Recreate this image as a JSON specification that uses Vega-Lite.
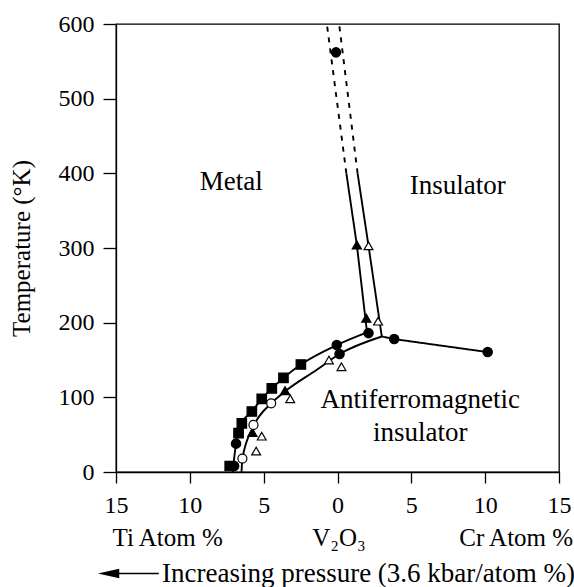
{
  "$schema": "https://vega.github.io/schema/vega-lite/v6.json",
  "width": 443,
  "height": 448,
  "autosize": {"type": "none"},
  "padding": {"left": 116, "top": 24, "right": 15, "bottom": 115},
  "background": "white",
  "config": {
    "font": "Liberation Serif",
    "view": {"stroke": "black", "strokeWidth": 1.3},
    "axis": {
      "grid": false,
      "domainColor": "black",
      "domainWidth": 1.3,
      "tickColor": "black",
      "tickWidth": 1.3,
      "labelColor": "black",
      "labelFont": "Liberation Serif",
      "labelFontSize": 24,
      "titleFont": "Liberation Serif",
      "titleFontSize": 25,
      "titleFontWeight": "normal",
      "titleColor": "black"
    }
  },
  "datasets": {
    "lines": [
      {"seg": "A1", "o": 1, "x": -7.1, "y": 0, "kind": "measured"},
      {"seg": "A1", "o": 2, "x": -6.87, "y": 38, "kind": "measured"},
      {"seg": "A1", "o": 3, "x": -6.7, "y": 52, "kind": "measured"},
      {"seg": "A1", "o": 4, "x": -6.45, "y": 66, "kind": "measured"},
      {"seg": "A1", "o": 5, "x": -5.8, "y": 81, "kind": "measured"},
      {"seg": "A1", "o": 6, "x": -5.13, "y": 98, "kind": "measured"},
      {"seg": "A1", "o": 7, "x": -4.45, "y": 112, "kind": "measured"},
      {"seg": "A1", "o": 8, "x": -3.66, "y": 126, "kind": "measured"},
      {"seg": "A1", "o": 9, "x": -2.48, "y": 144, "kind": "measured"},
      {"seg": "A1", "o": 10, "x": -0.05, "y": 170, "kind": "measured"},
      {"seg": "A1", "o": 11, "x": 2.0, "y": 187, "kind": "measured"},
      {"seg": "A2", "o": 1, "x": 2.0, "y": 187, "kind": "measured"},
      {"seg": "A2", "o": 2, "x": 1.31, "y": 304, "kind": "measured"},
      {"seg": "A2", "o": 3, "x": 0.6, "y": 400, "kind": "measured"},
      {"seg": "A3", "o": 1, "x": 0.6, "y": 400, "kind": "extrapolated"},
      {"seg": "A3", "o": 2, "x": -0.72, "y": 600, "kind": "extrapolated"},
      {"seg": "B1", "o": 1, "x": -6.5, "y": 0, "kind": "measured"},
      {"seg": "B1", "o": 2, "x": -6.44, "y": 18, "kind": "measured"},
      {"seg": "B1", "o": 3, "x": -5.72, "y": 60, "kind": "measured"},
      {"seg": "B1", "o": 4, "x": -4.49, "y": 92, "kind": "measured"},
      {"seg": "B1", "o": 5, "x": -3.55, "y": 108, "kind": "measured"},
      {"seg": "B1", "o": 6, "x": -1.4, "y": 137, "kind": "measured"},
      {"seg": "B1", "o": 7, "x": 0.14, "y": 158, "kind": "measured"},
      {"seg": "B1", "o": 8, "x": 3.0, "y": 181.5, "kind": "measured"},
      {"seg": "B2", "o": 1, "x": 3.0, "y": 181.5, "kind": "measured"},
      {"seg": "B2", "o": 2, "x": 2.1, "y": 303, "kind": "measured"},
      {"seg": "B2", "o": 3, "x": 1.36, "y": 400, "kind": "measured"},
      {"seg": "B3", "o": 1, "x": 1.36, "y": 400, "kind": "extrapolated"},
      {"seg": "B3", "o": 2, "x": 0.11, "y": 600, "kind": "extrapolated"},
      {"seg": "C", "o": 1, "x": 3.0, "y": 181.5, "kind": "measured"},
      {"seg": "C", "o": 2, "x": 3.84, "y": 178, "kind": "measured"},
      {"seg": "C", "o": 3, "x": 10.17, "y": 160.6, "kind": "measured"}
    ],
    "points": [
      {"kind": "sq", "x": -7.3, "y": 8},
      {"kind": "sq", "x": -6.7, "y": 52},
      {"kind": "sq", "x": -6.48, "y": 65},
      {"kind": "sq", "x": -5.8, "y": 81},
      {"kind": "sq", "x": -5.13, "y": 98},
      {"kind": "sq", "x": -4.45, "y": 112},
      {"kind": "sq", "x": -3.66, "y": 126},
      {"kind": "sq", "x": -2.48, "y": 144},
      {"kind": "dot", "x": -7.0, "y": 8},
      {"kind": "dot", "x": -6.87, "y": 38},
      {"kind": "dot", "x": -0.05, "y": 170},
      {"kind": "dot", "x": 0.14, "y": 158},
      {"kind": "dot", "x": 2.1, "y": 186},
      {"kind": "dot", "x": 3.84, "y": 178},
      {"kind": "dot", "x": 10.17, "y": 160.6},
      {"kind": "dot", "x": -0.1, "y": 562},
      {"kind": "tri", "x": -5.76, "y": 53},
      {"kind": "tri", "x": -3.55, "y": 109},
      {"kind": "tri", "x": 1.95, "y": 206},
      {"kind": "tri", "x": 1.31, "y": 304},
      {"kind": "ocirc", "x": -6.44, "y": 18},
      {"kind": "ocirc", "x": -5.69, "y": 63},
      {"kind": "ocirc", "x": -4.49, "y": 92},
      {"kind": "otri", "x": -5.51, "y": 28},
      {"kind": "otri", "x": -5.13, "y": 48},
      {"kind": "otri", "x": -3.2, "y": 98},
      {"kind": "otri", "x": -0.58, "y": 150},
      {"kind": "otri", "x": 0.27, "y": 141},
      {"kind": "otri", "x": 2.75, "y": 202},
      {"kind": "otri", "x": 2.1, "y": 303}
    ],
    "regions": [
      {"x": -7.2, "y": 388, "text": "Metal"},
      {"x": 8.15, "y": 383, "text": "Insulator"},
      {"x": 5.6, "y": 96, "text": "Antiferromagnetic"},
      {"x": 5.6, "y": 52, "text": "insulator"}
    ],
    "captions": [
      {"x": -11.5, "y": -88, "text": "Ti Atom %"},
      {"x": 0.1, "y": -88, "text": "V₂O₃"},
      {"x": 12.1, "y": -88, "text": "Cr Atom %"}
    ],
    "pressure": [
      {"x": 2.1, "y": -136, "text": "Increasing pressure (3.6 kbar/atom %)"}
    ],
    "arrow": [
      {"x": -15.6, "x2": -12.1, "y": -136}
    ],
    "arrowhead": [
      {"x": -15.5, "y": -136}
    ]
  },
  "encoding": {
    "x": {
      "field": "x",
      "type": "quantitative",
      "scale": {"domain": [-15, 15], "nice": false, "zero": false},
      "axis": {
        "values": [-15, -10, -5, 0, 5, 10, 15],
        "labelExpr": "abs(datum.value)",
        "tickSize": 11,
        "labelPadding": 10,
        "labelFlush": false,
        "title": null
      }
    },
    "y": {
      "field": "y",
      "type": "quantitative",
      "scale": {"domain": [0, 600], "nice": false},
      "axis": {
        "values": [0, 100, 200, 300, 400, 500, 600],
        "tickSize": 13,
        "labelPadding": 9,
        "title": "Temperature (°K)",
        "titlePadding": 24
      }
    }
  },
  "layer": [
    {
      "data": {"name": "lines"},
      "transform": [{"filter": "datum.seg === 'A1' || datum.seg === 'B1'"}],
      "mark": {"type": "line", "interpolate": "monotone", "color": "black", "strokeWidth": 1.9},
      "encoding": {
        "detail": {"field": "seg"},
        "order": {"field": "o", "type": "quantitative"}
      }
    },
    {
      "data": {"name": "lines"},
      "transform": [{"filter": "datum.seg !== 'A1' && datum.seg !== 'B1'"}],
      "mark": {"type": "line", "color": "black", "strokeWidth": 1.9, "clip": true},
      "encoding": {
        "detail": {"field": "seg"},
        "order": {"field": "o", "type": "quantitative"},
        "strokeDash": {
          "field": "kind",
          "type": "nominal",
          "scale": {"domain": ["measured", "extrapolated"], "range": [[1, 0], [5, 6]]},
          "legend": null
        }
      }
    },
    {
      "data": {"name": "points"},
      "mark": {"type": "point", "filled": true, "stroke": "black", "strokeWidth": 1.2, "opacity": 1},
      "encoding": {
        "shape": {
          "field": "kind",
          "type": "nominal",
          "scale": {"domain": ["sq", "dot", "tri", "ocirc", "otri"], "range": ["square", "circle", "triangle-up", "circle", "triangle-up"]},
          "legend": null
        },
        "fill": {
          "field": "kind",
          "type": "nominal",
          "scale": {"domain": ["sq", "dot", "tri", "ocirc", "otri"], "range": ["black", "black", "black", "white", "white"]},
          "legend": null
        },
        "size": {
          "field": "kind",
          "type": "nominal",
          "scale": {"domain": ["sq", "dot", "tri", "ocirc", "otri"], "range": [90, 78, 75, 85, 100]},
          "legend": null
        }
      }
    },
    {
      "data": {"name": "regions"},
      "mark": {"type": "text", "font": "Liberation Serif", "fontSize": 27, "color": "black", "align": "center", "baseline": "middle"},
      "encoding": {"text": {"field": "text"}}
    },
    {
      "data": {"name": "captions"},
      "mark": {"type": "text", "font": "Liberation Serif", "fontSize": 25, "color": "black", "align": "center", "baseline": "middle", "clip": false},
      "encoding": {"text": {"field": "text"}}
    },
    {
      "data": {"name": "pressure"},
      "mark": {"type": "text", "font": "Liberation Serif", "fontSize": 27, "color": "black", "align": "center", "baseline": "middle", "clip": false},
      "encoding": {"text": {"field": "text"}}
    },
    {
      "data": {"name": "arrow"},
      "mark": {"type": "rule", "color": "black", "strokeWidth": 1.5, "clip": false},
      "encoding": {"x2": {"field": "x2"}}
    },
    {
      "data": {"name": "arrowhead"},
      "mark": {"type": "point", "shape": "M-1,0L1,-0.45L1,0.45Z", "filled": true, "color": "black", "size": 450, "opacity": 1, "clip": false},
      "encoding": {}
    }
  ]
}
